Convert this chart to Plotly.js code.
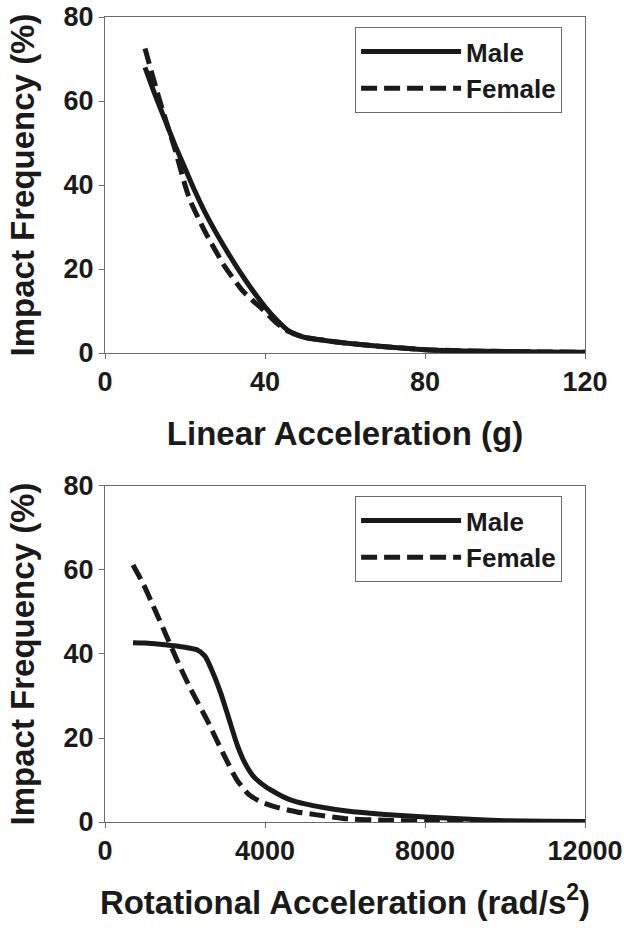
<!DOCTYPE html>
<html>
<head>
<meta charset="utf-8">
<script src="https://cdn.plot.ly/plotly-3.0.1.min.js"></script>
<style>html,body{margin:0;padding:0;background:#fff;}#chart{width:624px;height:933px;}</style>
</head>
<body>
<div id="chart"></div>
<script>
// Linear acceleration (g) vs impact frequency (%)
var linMaleX   = [10, 12.5, 15, 17.5, 20, 22.5, 25, 30, 35, 40, 43, 46, 48, 50, 55, 60, 70, 80, 90, 100, 110, 120];
var linMaleY   = [68, 61.5, 55.5, 49.5, 44, 38.5, 33.5, 25, 17.5, 11, 7.8, 5.2, 4.3, 3.7, 3.0, 2.4, 1.5, 0.8, 0.5, 0.35, 0.25, 0.2];
var linFemaleX = [10, 11.25, 12.9, 15, 17.5, 20, 21.25, 25, 28.75, 30, 34.6, 39.6, 42.5, 45, 48, 50, 55, 60, 70, 80, 90, 100, 110, 120];
var linFemaleY = [72.5, 68.2, 62.6, 56, 48.5, 40, 36.4, 28.9, 22.5, 20.5, 14.6, 10.2, 7.5, 5.6, 4.3, 3.7, 3.0, 2.4, 1.5, 0.8, 0.5, 0.35, 0.25, 0.2];

// Rotational acceleration (rad/s^2) vs impact frequency (%)
var rotMaleX   = [700, 1000, 1500, 2000, 2300, 2500, 2700, 2900, 3100, 3300, 3500, 3700, 4000, 4300, 4600, 5000, 5500, 6000, 7000, 8000, 9000, 10000, 11000, 12000];
var rotMaleY   = [42.7, 42.6, 42.2, 41.6, 41, 39.5, 35.5, 30.5, 24.5, 18.5, 14, 11, 8.5, 6.8, 5.4, 4.3, 3.4, 2.7, 1.8, 1.2, 0.7, 0.3, 0.2, 0.1];
var rotFemaleX = [700, 950, 1250, 1550, 1850, 2150, 2550, 2950, 3300, 3600, 3900, 4300, 4800, 5300, 6000, 7000, 8000, 9000, 10000, 12000];
var rotFemaleY = [61.2, 56.8, 50.5, 44, 37.5, 31.5, 24.3, 16.4, 10, 6.5, 4.8, 3.5, 2.4, 1.7, 0.8, 0.4, 0.2, 0.1, 0.05, 0];

var seriesNames = ['Male', 'Female'];
var linTicks = [0, 40, 80, 120];
var linTickText = ['0', '40', '80', '120'];
var rotTicks = [0, 4000, 8000, 12000];
var rotTickText = ['0', '4000', '8000', '12000'];
var freqTicks = [0, 20, 40, 60, 80];
var freqTickText = ['0', '20', '40', '60', '80'];

var ink = '#1a1a1a';
var axisGray = '#6b6b6b';
var fam = 'Liberation Sans, Arial, sans-serif';

function lineTrace(x, y, name, dash, xa, ya, leg) {
  return {
    x: x, y: y, name: name, type: 'scatter', mode: 'lines',
    xaxis: xa, yaxis: ya, legend: leg, showlegend: true,
    line: {color: ink, width: 5, dash: dash, shape: 'spline', smoothing: 0.6}
  };
}

var data = [
  lineTrace(linMaleX, linMaleY, seriesNames[0], 'solid', 'x', 'y', 'legend'),
  lineTrace(linFemaleX, linFemaleY, seriesNames[1], '16px,7px', 'x', 'y', 'legend'),
  lineTrace(rotMaleX, rotMaleY, seriesNames[0], 'solid', 'x2', 'y2', 'legend2'),
  lineTrace(rotFemaleX, rotFemaleY, seriesNames[1], '16px,7px', 'x2', 'y2', 'legend2')
];

function xAxis(range, ticks, labels, title, anchor) {
  return {
    domain: [0, 1], anchor: anchor, range: range, tickvals: ticks, ticktext: labels,
    ticks: 'outside', ticklen: 5, tickwidth: 1, tickcolor: axisGray,
    showline: true, linecolor: axisGray, linewidth: 1, mirror: true,
    showgrid: false, zeroline: false,
    tickfont: {family: fam, size: 27, color: ink, weight: 700},
    title: {text: title, standoff: 25, font: {family: fam, size: 33, color: ink, weight: 700}}
  };
}
function yAxis(domain, anchor) {
  return {
    domain: domain, anchor: anchor, range: [0, 80], tickvals: freqTicks, ticktext: freqTickText,
    ticks: 'outside', ticklen: 5, tickwidth: 1, tickcolor: axisGray,
    showline: true, linecolor: axisGray, linewidth: 1, mirror: true,
    showgrid: false, zeroline: false,
    tickfont: {family: fam, size: 27, color: ink, weight: 700},
    title: {text: 'Impact Frequency (%)', standoff: 18, font: {family: fam, size: 33, color: ink, weight: 700}}
  };
}
function legendBox(y) {
  return {
    x: 0.521, y: y, xanchor: 'left', yanchor: 'top',
    bgcolor: '#ffffff', bordercolor: axisGray, borderwidth: 1,
    font: {family: fam, size: 26, color: ink, weight: 700},
    itemwidth: 100, tracegroupgap: 0
  };
}

var layout = {
  width: 624, height: 933,
  margin: {l: 105, r: 39, t: 17, b: 111},
  paper_bgcolor: '#ffffff', plot_bgcolor: '#ffffff',
  font: {family: fam, color: ink},
  xaxis: xAxis([0, 120], linTicks, linTickText, 'Linear Acceleration (g)', 'y'),
  yaxis: yAxis([0.5826, 1], 'x'),
  xaxis2: xAxis([0, 12000], rotTicks, rotTickText, 'Rotational Acceleration (rad/s<sup>2</sup>)', 'y2'),
  yaxis2: yAxis([0, 0.4174], 'x2'),
  legend: legendBox(0.9876),
  legend2: legendBox(0.405)
};

Plotly.newPlot('chart', data, layout, {displayModeBar: false, staticPlot: true});
</script>
</body>
</html>
